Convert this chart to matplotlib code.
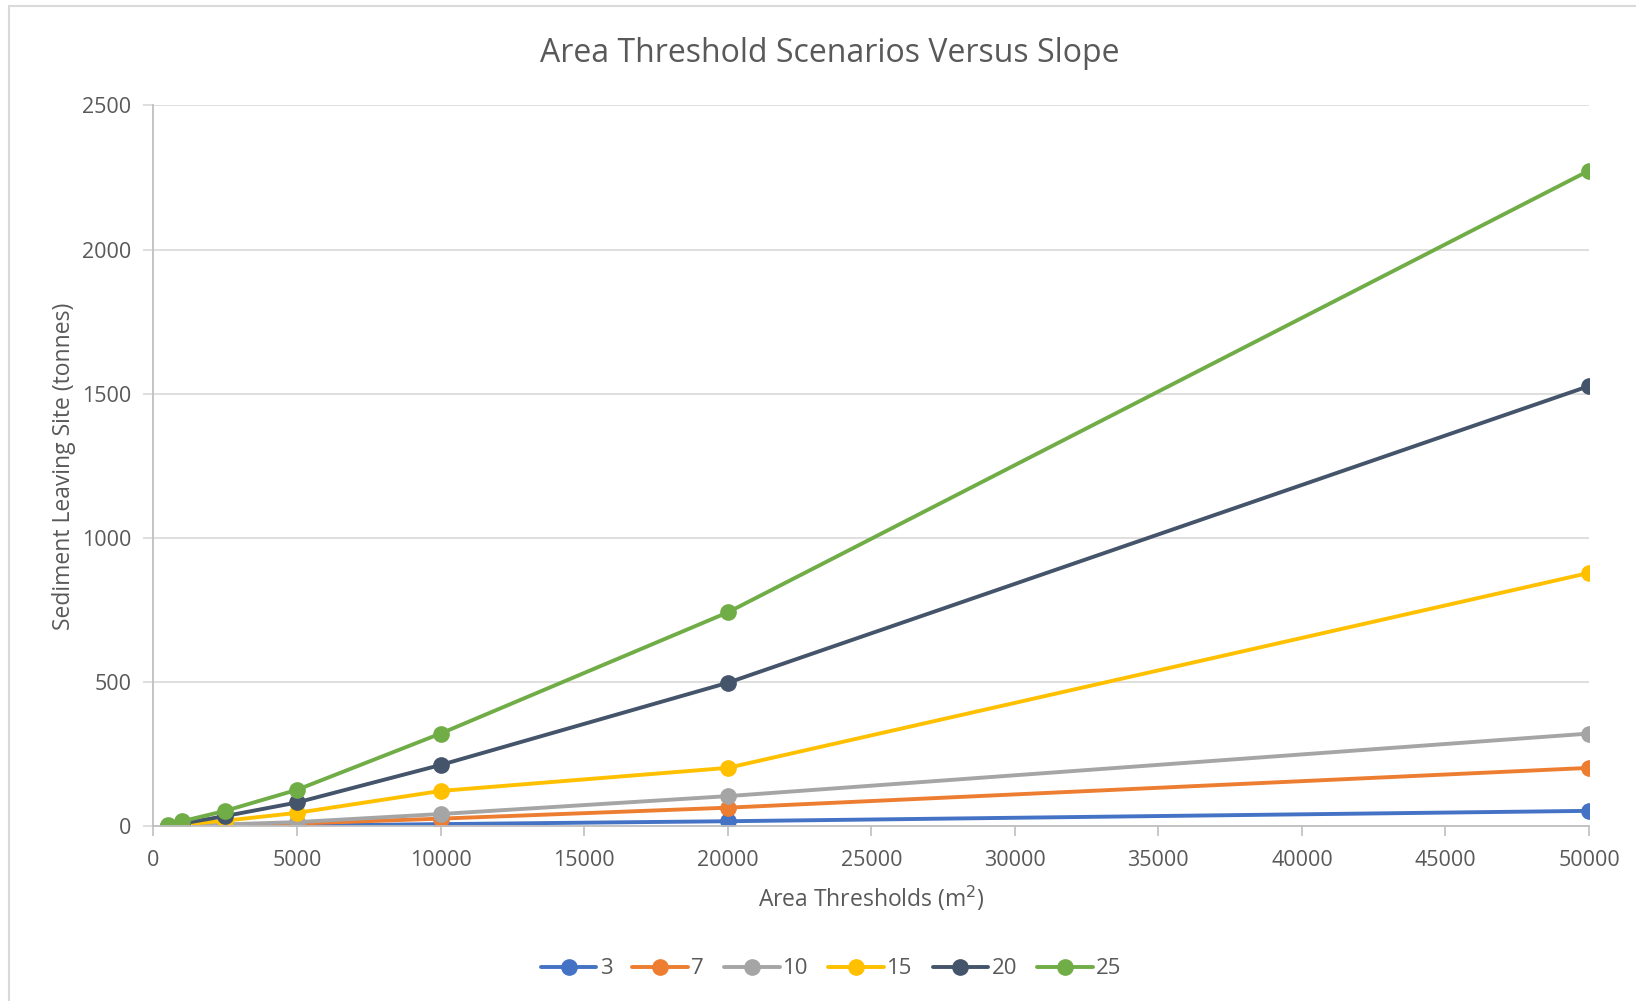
import numpy as np
import matplotlib.pyplot as plt
from matplotlib.patches import Rectangle

# Area thresholds (m2) and sediment leaving site (tonnes) per slope scenario
area = [500, 1000, 2500, 5000, 10000, 20000, 50000]
slope_3 = [0.2, 0.5, 1.5, 3, 8, 18, 54]
slope_7 = [1, 2, 4, 10, 27, 65, 203]
slope_10 = [1, 3, 7, 15, 43, 105, 322]
slope_15 = [2, 7, 20, 47, 123, 203, 879]
slope_20 = [3, 10, 36, 83, 213, 498, 1527]
slope_25 = [4, 18, 54, 127, 322, 742, 2274]

series = [('3', slope_3, '#4472C4'), ('7', slope_7, '#ED7D31'),
          ('10', slope_10, '#A5A5A5'), ('15', slope_15, '#FFC000'),
          ('20', slope_20, '#44546A'), ('25', slope_25, '#70AD47')]

text_col = '#595959'
plt.rcParams['font.family'] = ['Open Sans', 'DejaVu Sans']

fig = plt.figure(figsize=(16.36, 10.01), dpi=100)
ax = fig.add_axes([0.0938, 0.1744, 0.8775, 0.7203])

# chart area border (Excel style)
fig.patches.append(Rectangle((9 / 1636, -0.1), 1.2, 1 - 6 / 1001 + 0.1,
                             transform=fig.transFigure, fill=False,
                             edgecolor='#D9D9D9', linewidth=1.5))

for name, vals, col in series:
    ax.plot(area, vals, color=col, linewidth=2.8, marker='o', markersize=11,
            label=name, solid_capstyle='round')

ax.set_xlim(0, 50000)
ax.set_ylim(0, 2500)
ax.set_xticks(np.arange(0, 50001, 5000))
ax.set_yticks(np.arange(0, 2501, 500))
ax.grid(axis='y', color='#D9D9D9', linewidth=1.2)
ax.set_axisbelow(True)

for s in ['top', 'right']:
    ax.spines[s].set_visible(False)
for s in ['left', 'bottom']:
    ax.spines[s].set_color('#BFBFBF')
    ax.spines[s].set_linewidth(1.3)
ax.tick_params(labelcolor=text_col, labelsize=15.5, width=1.2, direction='out')
ax.tick_params(axis='x', colors='#BFBFBF', labelcolor=text_col, length=7, pad=10)
ax.tick_params(axis='y', colors='#D9D9D9', labelcolor=text_col, length=7, pad=9)

fig.text(0.507, 1 - 53 / 1001, 'Area Threshold Scenarios Versus Slope',
         fontsize=23, color=text_col, ha='center', va='center')
ax.set_xlabel('Area Thresholds (m$^2$)', fontsize=16.5, color=text_col, labelpad=9)
ax.set_ylabel('Sediment Leaving Site (tonnes)', fontsize=16.5, color=text_col, labelpad=4)

leg = fig.legend(*ax.get_legend_handles_labels(), loc='center',
                 bbox_to_anchor=(0.508, 1 - 969 / 1001), ncol=6, frameon=False,
                 fontsize=16, handlelength=2.5, columnspacing=0.9, handletextpad=0.15)
for t in leg.get_texts():
    t.set_color(text_col)

fig.savefig('out.png', dpi=100)
